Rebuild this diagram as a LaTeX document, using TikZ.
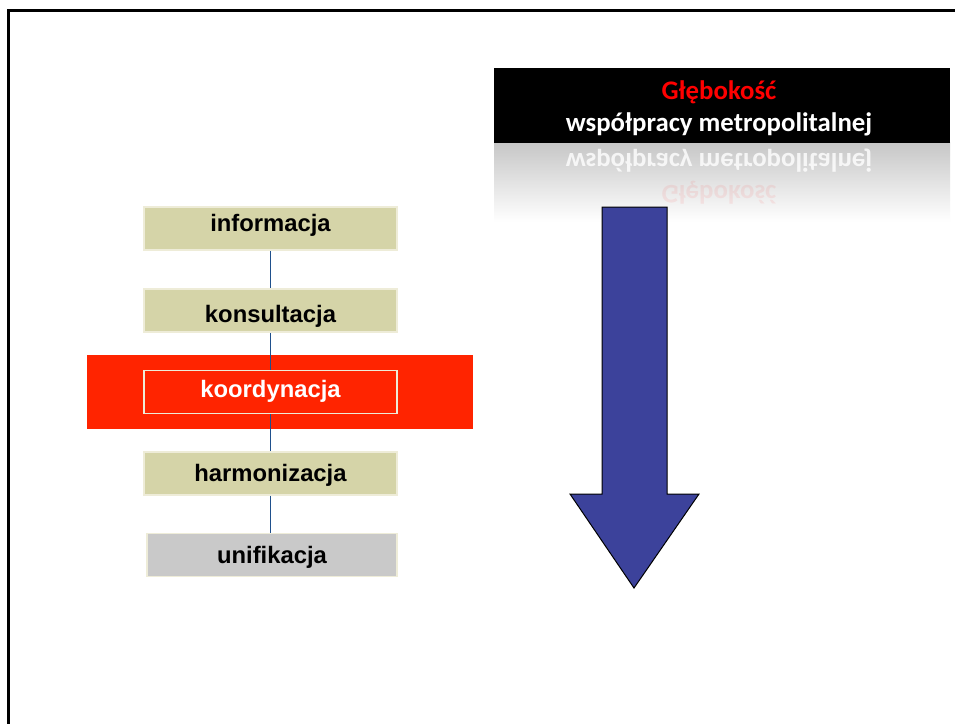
\documentclass[tikz,border=0pt]{standalone}
\usepackage{fontspec}
\setmainfont{Liberation Sans}
\newfontfamily\titlefont{Carlito}
\usepackage{tikz}
\usetikzlibrary{positioning,shapes.geometric}
\definecolor{boxkhaki}{RGB}{213,212,168}
\definecolor{boxgray}{RGB}{201,201,201}
\definecolor{boxedge}{RGB}{238,236,216}
\definecolor{bandred}{RGB}{255,36,0}
\definecolor{linkblue}{RGB}{31,80,140}
\definecolor{arrowblue}{RGB}{60,66,155}

\begin{document}
\begin{tikzpicture}[x=1bp, y=-1bp,
  level/.style={draw=boxedge, line width=1.6bp, fill=boxkhaki, minimum width=253bp, minimum height=43bp, inner sep=0pt, text depth=5bp, font=\fontsize{23.9}{28}\selectfont\bfseries},
  base/.style={text height=#1bp},
  link/.style={draw=linkblue, line width=1.8bp},
  title/.style={font=\titlefont\fontsize{26.9}{32}\selectfont\bfseries}]
\useasboundingbox (0,0) rectangle (955,724);
\fill[white] (-10,-10) rectangle (965,734);
\draw [line width=3bp] (965,11) -- (8,11) -- (8,734);

% levels
\fill [bandred] (87,355) rectangle (473,429);
\node[level, base=10] (inf) at (270.5,228.5) {informacja};
\node[level, base=28] (kon) at (270.5,310.5) {konsultacja};
\node[level, base=15, fill=bandred, text=white] (koo) at (270.5,392) {koordynacja};
\node[level, base=20] (har) at (270.5,473.5) {harmonizacja};
\node[level, base=21, fill=boxgray, minimum width=250bp] (uni) at (272,555) {unifikacja};

\draw [link] (inf) -- (kon);
\draw [link] (kon) -- (koo);
\draw [link] (koo) -- (har);
\draw [link] (har.south -| inf.south) -- (uni.north -| inf.south);

% title and its reflection
\shade [top color=black!22, bottom color=white] (494,143) rectangle (950,222);
\fill [black] (494,68) rectangle (950,143);
\node [title, text=red] (deep) at (719,92) {Głębokość};
\node [title, text=white] (coop) at (719,124) {współpracy metropolitalnej};
\node [title, yscale=-1, text=white, opacity=0.8] (coopr) at (719,161) {współpracy metropolitalnej};
\node [title, yscale=-1, text=red, opacity=0.07] (deepr) at (719,193) {Głębokość};

% depth arrow
\draw [fill=arrowblue, line width=1bp, line join=miter] (602,207) -- (667,207) -- (667,494) -- (699,494) -- (634,588) -- (570,494) -- (602,494) -- cycle;
\end{tikzpicture}
\end{document}
